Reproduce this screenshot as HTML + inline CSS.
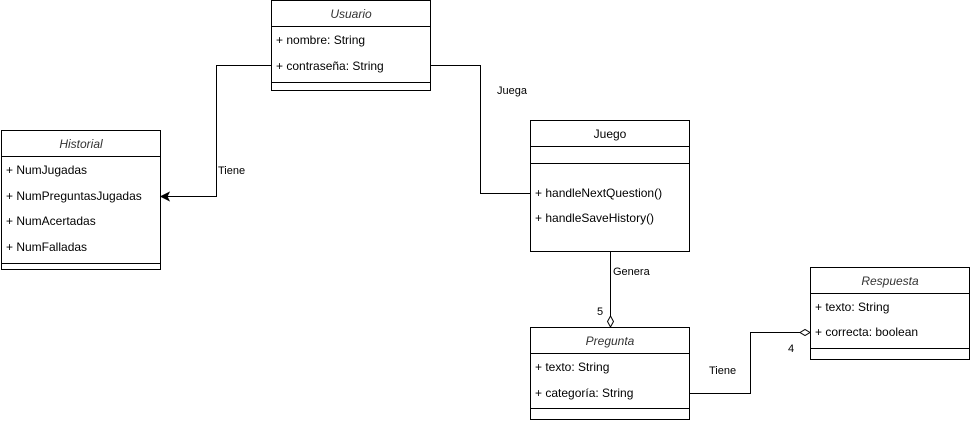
<!DOCTYPE html>
<html><head><meta charset="utf-8"><style>
html,body{margin:0;padding:0;background:#fff;width:971px;height:421px;overflow:hidden}
text{font-family:"Liberation Sans",Arial,sans-serif;font-size:12px;fill:#000}
.t{font-style:italic;fill:#333}
</style></head><body>
<svg width="971" height="421" xmlns="http://www.w3.org/2000/svg">
<g fill="#fff" stroke="#000" stroke-width="1">
<rect x="271.5" y="0.5" width="159" height="90"/>
<line x1="271.5" y1="26.5" x2="430.5" y2="26.5"/>
<line x1="271.5" y1="82.5" x2="430.5" y2="82.5"/>
<rect x="1.5" y="130.5" width="159" height="139"/>
<line x1="1.5" y1="156.5" x2="160.5" y2="156.5"/>
<line x1="1.5" y1="263.5" x2="160.5" y2="263.5"/>
<rect x="530.5" y="120.5" width="159" height="131"/>
<line x1="530.5" y1="146.5" x2="689.5" y2="146.5"/>
<line x1="530.5" y1="163.5" x2="689.5" y2="163.5"/>
<rect x="530.5" y="327.5" width="159" height="92"/>
<line x1="530.5" y1="353.5" x2="689.5" y2="353.5"/>
<line x1="530.5" y1="408.5" x2="689.5" y2="408.5"/>
<rect x="810.5" y="267.5" width="159" height="92"/>
<line x1="810.5" y1="293.5" x2="969.5" y2="293.5"/>
<line x1="810.5" y1="348.5" x2="969.5" y2="348.5"/>
</g>
<g fill="none" stroke="#000" stroke-width="1">
<polyline points="271,65.5 216.5,65.5 216.5,196.5 164,196.5"/>
<polyline points="431,65.5 480.5,65.5 480.5,193.5 530,193.5"/>
<polyline points="610.5,252 610.5,316"/>
<polyline points="690,393.5 750.5,393.5 750.5,332.5 800,332.5"/>
</g>
<polygon points="161,196.5 169,192.5 167,196.5 169,200.5" fill="#000" stroke="#000"/>
<polygon points="610.5,316 613.5,321.5 610.5,327 607.5,321.5" fill="#fff" stroke="#000"/>
<polygon points="800,332.5 805,329.5 810,332.5 805,335.5" fill="#fff" stroke="#000"/>

<text class="t" x="351" y="18" text-anchor="middle">Usuario</text>
<text x="276" y="44">+ nombre: String</text>
<text x="276" y="70">+ contraseña: String</text>

<text class="t" x="81" y="148" text-anchor="middle">Historial</text>
<text x="6" y="174">+ NumJugadas</text>
<text x="6" y="200">+ NumPreguntasJugadas</text>
<text x="6" y="225">+ NumAcertadas</text>
<text x="6" y="251">+ NumFalladas</text>

<text x="610" y="138" text-anchor="middle">Juego</text>
<text x="535" y="197">+ handleNextQuestion()</text>
<text x="535" y="222">+ handleSaveHistory()</text>

<text class="t" x="610" y="345" text-anchor="middle">Pregunta</text>
<text x="535" y="371">+ texto: String</text>
<text x="535" y="397">+ categoría: String</text>

<text class="t" x="890" y="285" text-anchor="middle">Respuesta</text>
<text x="815" y="311">+ texto: String</text>
<text x="815" y="336">+ correcta: boolean</text>

<text x="218" y="174" style="font-size:11px">Tiene</text>
<text x="497" y="94" style="font-size:11px">Juega</text>
<text x="613" y="275" style="font-size:11px">Genera</text>
<text x="597" y="315" style="font-size:11px">5</text>
<text x="709" y="374" style="font-size:11px">Tiene</text>
<text x="788" y="352" style="font-size:11px">4</text>
</svg>
</body></html>
